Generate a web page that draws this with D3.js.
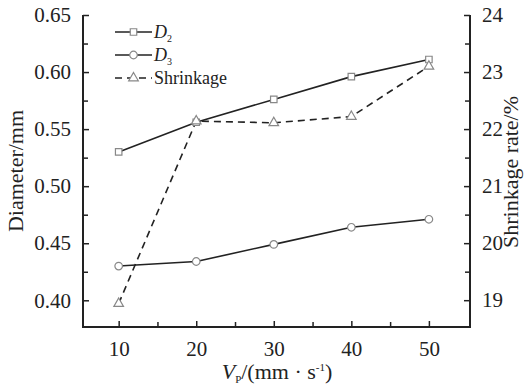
<!DOCTYPE html>
<html><head><meta charset="utf-8">
<script src="https://cdn.jsdelivr.net/npm/d3@7"></script>
<style>body{margin:0;background:#fff}svg{display:block}</style>
</head><body><div id="c"></div>
<script>
const speeds = [10, 20, 30, 40, 50];
const diameterD2 = [0.530, 0.556, 0.576, 0.596, 0.611];
const diameterD3 = [0.430, 0.434, 0.449, 0.464, 0.471];
const shrinkage = [18.94, 22.14, 22.11, 22.22, 23.10];
const xTicks = [10, 20, 30, 40, 50];
const yLeftTicks = [0.40, 0.45, 0.50, 0.55, 0.60, 0.65];
const yRightTicks = [19, 20, 21, 22, 23, 24];

const FONT = "Liberation Serif";
const W = 525, H = 387;
const L = 83, R = 470, T = 15, B = 327;
const svg = d3.select("#c").append("svg").attr("width", W).attr("height", H);
const x = d3.scaleLinear().domain([5.4, 55.3]).range([L, R]);
const yL = d3.scaleLinear().domain([0.3766, 0.65]).range([B, T]);
const yR = d3.scaleLinear().domain([18.53, 24]).range([B, T]);
const ink = "#222", mk = "#888";

function styleAxis(g){
  g.select(".domain").remove();
  g.selectAll("line").attr("stroke", ink).attr("stroke-width", 1.5);
  g.selectAll("text").style("font-size", "21px").style("fill", ink).style("font-family", FONT);
}
const xMinor = d3.range(15, 55, 10);
svg.append("g").attr("transform", `translate(0,${B})`)
  .call(d3.axisBottom(x).tickValues(xTicks).tickFormat(d3.format("d")).tickSizeInner(-6).tickSizeOuter(0).tickPadding(14))
  .call(styleAxis);
svg.append("g").attr("transform", `translate(0,${B})`)
  .call(d3.axisBottom(x).tickValues(xMinor).tickFormat("").tickSizeInner(-5).tickSizeOuter(0))
  .call(styleAxis);
svg.append("g").attr("transform", `translate(${L},0)`)
  .call(d3.axisLeft(yL).tickValues(yLeftTicks).tickFormat(d3.format(".2f")).tickSizeInner(-6).tickSizeOuter(0).tickPadding(12))
  .call(styleAxis);
svg.append("g").attr("transform", `translate(${L},0)`)
  .call(d3.axisLeft(yL).tickValues(d3.range(0.425, 0.65, 0.05)).tickFormat("").tickSizeInner(-5).tickSizeOuter(0))
  .call(styleAxis);
svg.append("g").attr("transform", `translate(${R},0)`)
  .call(d3.axisRight(yR).tickValues(yRightTicks).tickFormat(d3.format("d")).tickSizeInner(-6).tickSizeOuter(0).tickPadding(12))
  .call(styleAxis);
svg.append("g").attr("transform", `translate(${R},0)`)
  .call(d3.axisRight(yR).tickValues(d3.range(19.5, 24, 1)).tickFormat("").tickSizeInner(-5).tickSizeOuter(0))
  .call(styleAxis);
svg.append("path").attr("d", `M${L},${T}V${B}H${R}V${T}`).attr("fill", "none").attr("stroke", ink).attr("stroke-width", 2);

function txt(sel){ return sel.style("font-family", FONT).style("fill", ink); }
txt(svg.append("text")).attr("transform", `translate(23,${(T+B)/2}) rotate(-90)`).attr("text-anchor", "middle").style("font-size", "22px").text("Diameter/mm");
txt(svg.append("text")).attr("transform", `translate(513,${(T+B)/2 + 1}) rotate(-90)`).attr("text-anchor", "middle").attr("dominant-baseline", "middle").style("font-size", "22px").text("Shrinkage rate/%");
const xt = txt(svg.append("text")).attr("x", 277).attr("y", 379).attr("text-anchor", "middle").style("font-size", "22px");
xt.append("tspan").style("font-style", "italic").text("V");
xt.append("tspan").style("font-size", "11px").attr("dy", 4).text("P");
xt.append("tspan").attr("dy", -4).text("/(mm · s");
xt.append("tspan").style("font-size", "11px").attr("dy", -8).text("-1");
xt.append("tspan").attr("dy", 8).text(")");

const lineL = d3.line().x((d, i) => x(speeds[i])).y(d => yL(d));
const lineR = d3.line().x((d, i) => x(speeds[i])).y(d => yR(d));
svg.append("path").attr("d", lineL(diameterD2)).attr("fill", "none").attr("stroke", ink).attr("stroke-width", 1.6);
svg.append("path").attr("d", lineL(diameterD3)).attr("fill", "none").attr("stroke", ink).attr("stroke-width", 1.6);
svg.append("path").attr("d", lineR(shrinkage)).attr("fill", "none").attr("stroke", ink).attr("stroke-width", 1.6).attr("stroke-dasharray", "7,5");

const sq = d3.symbol().type(d3.symbolSquare).size(42);
const ci = d3.symbol().type(d3.symbolCircle).size(45);
const tr = d3.symbol().type(d3.symbolTriangle).size(40);
svg.selectAll(".m2").data(diameterD2).join("path").attr("transform", (d, i) => `translate(${x(speeds[i])},${yL(d)})`).attr("d", sq).attr("fill", "#fff").attr("stroke", mk).attr("stroke-width", 1.2);
svg.selectAll(".m3").data(diameterD3).join("path").attr("transform", (d, i) => `translate(${x(speeds[i])},${yL(d)})`).attr("d", ci).attr("fill", "#fff").attr("stroke", mk).attr("stroke-width", 1.2);
svg.selectAll(".ms").data(shrinkage).join("path").attr("transform", (d, i) => `translate(${x(speeds[i])},${yR(d)})`).attr("d", tr).attr("fill", "#fff").attr("stroke", mk).attr("stroke-width", 1.2);

const leg = [
  {y: 32, sym: sq, dash: null, label: "D", sub: "2"},
  {y: 55, sym: ci, dash: null, label: "D", sub: "3"},
  {y: 78, sym: tr, dash: "7,5", label: "Shrinkage", sub: null}
];
leg.forEach(l => {
  svg.append("line").attr("x1", 115).attr("x2", 152).attr("y1", l.y).attr("y2", l.y).attr("stroke", ink).attr("stroke-width", 1.6).attr("stroke-dasharray", l.dash);
  svg.append("path").attr("transform", `translate(133.5,${l.y})`).attr("d", l.sym).attr("fill", "#fff").attr("stroke", mk).attr("stroke-width", 1.2);
  const t = txt(svg.append("text")).attr("x", 154).attr("y", l.y + 6).style("font-size", "18px");
  if (l.sub) {
    t.append("tspan").style("font-style", "italic").text(l.label);
    t.append("tspan").style("font-size", "10px").attr("dy", 4).text(l.sub);
  } else t.text(l.label);
});
</script></body></html>
